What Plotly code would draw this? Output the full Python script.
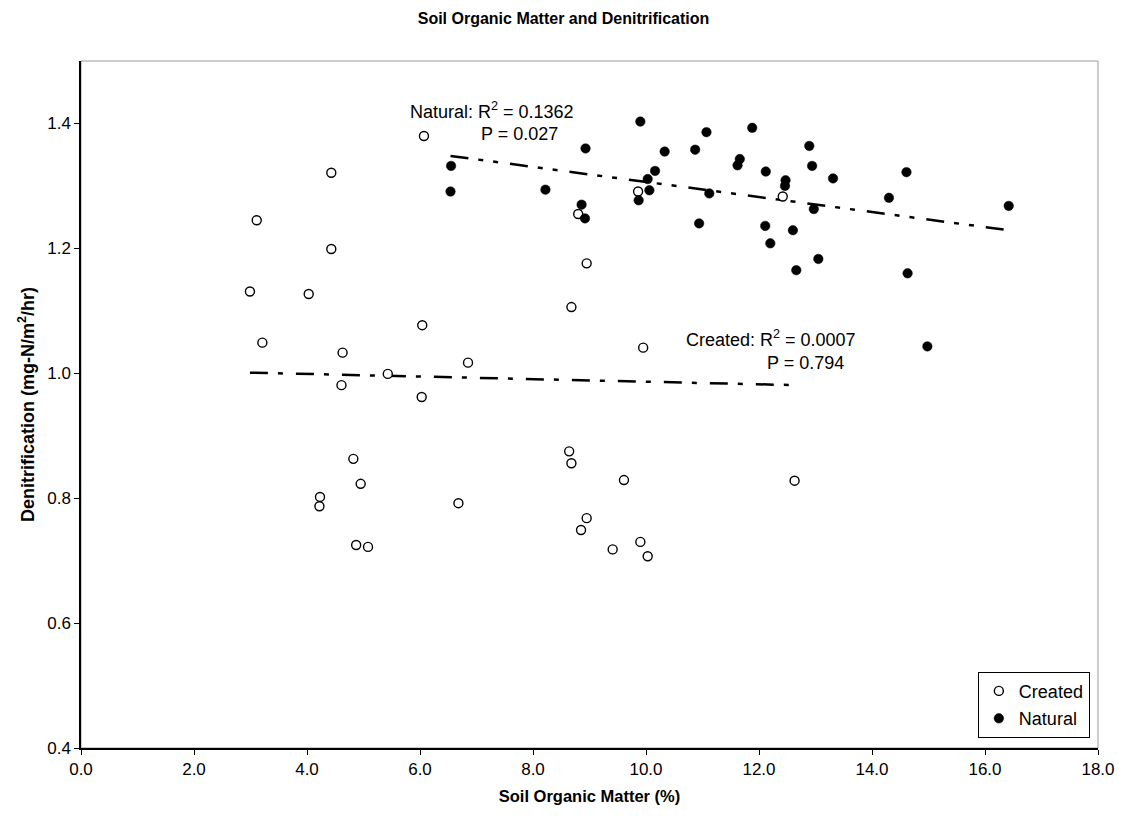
import plotly.graph_objects as go

# ---- data ----
created_som = [6.07, 4.43, 3.11, 4.43, 2.99, 4.03, 3.21, 4.63, 6.04, 6.85, 5.43, 4.61,
               6.03, 4.82, 4.95, 4.23, 4.22, 6.68, 4.87, 5.08,
               9.86, 8.80, 8.95, 8.68, 9.95, 12.42,
               8.64, 8.68, 9.61, 12.63, 8.95, 8.85, 9.41, 9.90, 10.03]
created_den = [1.380, 1.321, 1.245, 1.199, 1.131, 1.127, 1.049, 1.033, 1.077, 1.017, 0.999, 0.981,
               0.962, 0.863, 0.823, 0.802, 0.787, 0.792, 0.725, 0.722,
               1.291, 1.255, 1.176, 1.106, 1.041, 1.283,
               0.875, 0.856, 0.829, 0.828, 0.768, 0.749, 0.718, 0.730, 0.707]

natural_som = [6.55, 6.54, 8.22, 9.90, 8.93, 8.86, 8.92, 9.87, 10.06, 10.03, 10.16, 10.33,
               10.87, 11.07, 11.12, 10.94, 11.88, 11.66, 11.62, 12.12, 12.11, 12.20,
               12.47, 12.46, 12.60, 12.66, 12.89, 12.94, 12.97, 13.05, 13.31, 14.30,
               14.61, 14.63, 16.42, 14.98]
natural_den = [1.332, 1.291, 1.294, 1.403, 1.360, 1.270, 1.248, 1.277, 1.293, 1.311, 1.324, 1.355,
               1.358, 1.386, 1.288, 1.240, 1.393, 1.343, 1.333, 1.323, 1.236, 1.208,
               1.309, 1.300, 1.229, 1.165, 1.364, 1.332, 1.263, 1.183, 1.312, 1.281,
               1.322, 1.160, 1.268, 1.043]

# trend line end points
natural_trend_x = [6.54, 16.42]
natural_trend_y = [1.348, 1.229]
created_trend_x = [2.99, 12.65]
created_trend_y = [1.001, 0.981]

x_ticks = [0, 2, 4, 6, 8, 10, 12, 14, 16, 18]
y_ticks = [0.4, 0.6, 0.8, 1.0, 1.2, 1.4]

FONT = "Liberation Sans, Arial, sans-serif"

fig = go.Figure()

fig.add_trace(go.Scatter(
    x=natural_trend_x, y=natural_trend_y, mode="lines", showlegend=False,
    line=dict(color="black", width=2.5, dash="18px,10px,5px,10px,5px,12px"),
    hoverinfo="skip"))
fig.add_trace(go.Scatter(
    x=created_trend_x, y=created_trend_y, mode="lines", showlegend=False,
    line=dict(color="black", width=2.5, dash="18px,10px,5px,13px"),
    hoverinfo="skip"))

fig.add_trace(go.Scatter(
    x=created_som, y=created_den, mode="markers", name="Created", legendgroup="c",
    marker=dict(symbol="circle", size=9, color="white",
                line=dict(color="black", width=1.4))))
fig.add_trace(go.Scatter(
    x=natural_som, y=natural_den, mode="markers", name="Natural", legendgroup="n",
    marker=dict(symbol="circle", size=9.5, color="black",
                line=dict(color="black", width=0.5))))

ANN_FONT = dict(family=FONT, size=18, color="black")
fig.add_annotation(x=5.785, y=1.421, xref="x", yref="y", xanchor="left", yanchor="middle",
                   text="Natural: R<sup>2</sup> = 0.1362", showarrow=False, font=ANN_FONT)
fig.add_annotation(x=7.05, y=1.383, xref="x", yref="y", xanchor="left", yanchor="middle",
                   text="P = 0.027", showarrow=False, font=ANN_FONT)
fig.add_annotation(x=10.68, y=1.056, xref="x", yref="y", xanchor="left", yanchor="middle",
                   text="Created: R<sup>2</sup> = 0.0007", showarrow=False, font=ANN_FONT)
fig.add_annotation(x=12.11, y=1.0165, xref="x", yref="y", xanchor="left", yanchor="middle",
                   text="P = 0.794", showarrow=False, font=ANN_FONT)

# plot-area frame (light gray)
fig.add_shape(type="rect", xref="paper", yref="paper", x0=0, y0=0, x1=1, y1=1,
              line=dict(color="#9a9a9a", width=1), layer="below")

fig.update_layout(
    width=1127, height=819,
    paper_bgcolor="white", plot_bgcolor="white",
    margin=dict(l=81, r=24, t=61, b=71),
    font=dict(family=FONT, size=16, color="black"),
    title=dict(text="<b>Soil Organic Matter and Denitrification</b>", x=0.5, xref="container",
               y=1 - 18 / 819, yanchor="middle", xanchor="center",
               font=dict(family=FONT, size=16, color="black")),
    showlegend=True,
    legend=dict(x=0.992, y=0.015, xanchor="right", yanchor="bottom",
                bordercolor="black", borderwidth=1, bgcolor="white",
                font=dict(family=FONT, size=18), tracegroupgap=1,
                traceorder="grouped", itemwidth=30),
)

fig.update_xaxes(range=[0, 18], tickvals=x_ticks, tickformat=".1f",
                 showgrid=False, zeroline=False, showline=True, linecolor="black", linewidth=1.5,
                 ticks="outside", ticklen=5, tickcolor="black",
                 tickfont=dict(family=FONT, size=17),
                 title=dict(text="<b>Soil Organic Matter (%)</b>", standoff=12,
                            font=dict(family=FONT, size=16.5)))
fig.update_yaxes(range=[0.4, 1.5], tickvals=y_ticks, tickformat=".1f",
                 showgrid=False, zeroline=False, showline=True, linecolor="black", linewidth=1.5,
                 ticks="outside", ticklen=5, tickcolor="black",
                 tickfont=dict(family=FONT, size=17),
                 title=dict(text="<b>Denitrification (mg-N/m<sup>2</sup>/hr)</b>", standoff=8,
                            font=dict(family=FONT, size=18)))

fig.write_html("out.html")
